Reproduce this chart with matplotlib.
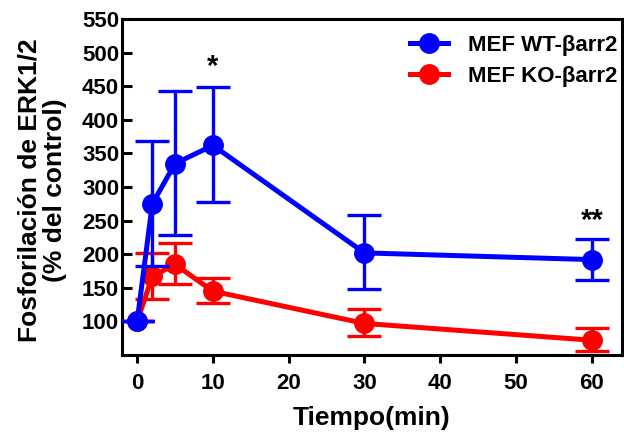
import matplotlib
matplotlib.use("Agg")
import matplotlib.pyplot as plt
from matplotlib.lines import Line2D

plt.rcParams['font.family'] = ['Liberation Sans', 'DejaVu Sans']
plt.rcParams['font.weight'] = 'bold'

time = [0, 2, 5, 10, 30, 60]
wt_mean = [100, 275, 335, 362, 202, 192]
wt_upper = [100, 368, 443, 449, 259, 223]
wt_lower = [100, 183, 229, 278, 148, 161]
ko_mean = [100, 167, 185, 145, 97, 72]
ko_upper = [100, 202, 216, 164, 118, 90]
ko_lower = [100, 133, 155, 127, 78, 56]

xticks = [0, 10, 20, 30, 40, 50, 60]
yticks = [100, 150, 200, 250, 300, 350, 400, 450, 500, 550]

fig = plt.figure(figsize=(6.24, 4.34), dpi=100)
ax = fig.add_axes([0.1955, 0.182, 0.8015, 0.774])

def draw(mean, up, lo, color, z):
    yerr = [[m - l for m, l in zip(mean, lo)], [u - m for m, u in zip(mean, up)]]
    ax.errorbar(time, mean, yerr=yerr, color=color, lw=3.6, marker='o', ms=14,
                capsize=12, capthick=2.4, elinewidth=2.4, zorder=z)

draw(ko_mean, ko_upper, ko_lower, '#ff0000', 3)
draw(wt_mean, wt_upper, wt_lower, '#0000ff', 4)

ax.text(10, 458, '*', ha='center', va='bottom', fontsize=21, fontweight='bold')
ax.text(60, 228, '**', ha='center', va='bottom', fontsize=21, fontweight='bold')

ax.set_xlim(-2, 64)
ax.set_ylim(50, 550)
ax.set_xticks(xticks)
ax.set_yticks(yticks)
for s in ax.spines.values():
    s.set_linewidth(2.2)
ax.tick_params(axis='y', width=2.2, length=7, labelsize=16, direction='in', pad=2)
ax.tick_params(axis='x', width=2.2, length=6, labelsize=16, direction='out', pad=7)
for lab in ax.get_xticklabels() + ax.get_yticklabels():
    lab.set_fontweight('bold')

ax.set_xlabel('Tiempo(min)', fontsize=19, fontweight='bold')
ax.xaxis.set_label_coords(0.5, -0.152)
ax.set_ylabel('Fosforilación de ERK1/2\n(% del control)', fontsize=19,
              fontweight='bold', linespacing=1.1)
ax.yaxis.set_label_coords(-0.11, 0.49)

handles = [Line2D([], [], color='#0000ff', lw=3.6, marker='o', ms=14),
           Line2D([], [], color='#ff0000', lw=3.6, marker='o', ms=14)]
ax.legend(handles, ['MEF WT-βarr2', 'MEF KO-βarr2'], loc='upper right',
          bbox_to_anchor=(1.026, 1.006),
          frameon=False, fontsize=16, handlelength=1.7, handletextpad=0.9,
          labelspacing=0.45, borderaxespad=0.5, borderpad=0.3)

fig.savefig('out.png', dpi=100)
